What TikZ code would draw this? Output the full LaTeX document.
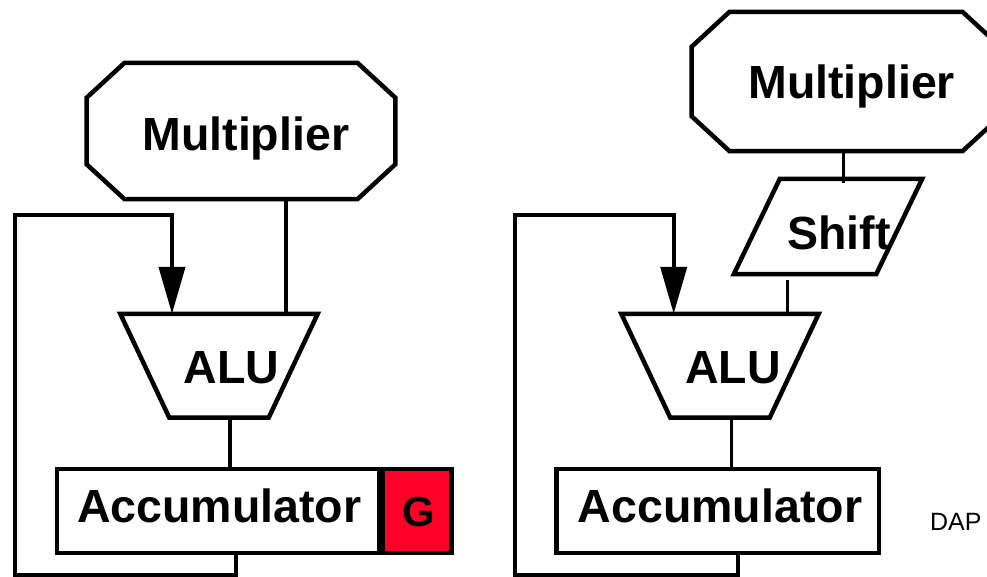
\documentclass[tikz,border=0pt]{standalone}
\usepackage{fontspec}
\setmainfont{Liberation Sans}
\usetikzlibrary{arrows.meta,positioning,calc}
\definecolor{gred}{RGB}{255,0,40}

% octagon outline round a plain node: #1 node, #2 cut in x, #3 cut in y
\newcommand\octagonbox[3]{%
  \draw[line width=4.5pt,line join=miter]
    ($(#1.north west)+(#2,0)$) -- ($(#1.north east)+(-#2,0)$)
    -- ($(#1.north east)+(0,#3)$) -- ($(#1.south east)+(0,-#3)$)
    -- ($(#1.south east)+(-#2,0)$) -- ($(#1.south west)+(#2,0)$)
    -- ($(#1.south west)+(0,-#3)$) -- ($(#1.north west)+(0,#3)$) -- cycle;}
% four-sided outline round a plain node, corners moved inwards:
% #1 node, #2 top left, #3 top right, #4 bottom right, #5 bottom left
\newcommand\slantbox[5]{%
  \draw[line width=4.5pt,line join=miter]
    ($(#1.north west)+(#2,0)$) -- ($(#1.north east)+(-#3,0)$)
    -- ($(#1.south east)+(-#4,0)$) -- ($(#1.south west)+(#5,0)$) -- cycle;}

\begin{document}
\begin{tikzpicture}[
  x=1pt, y=-1pt,
  >={Triangle[length=47pt,width=26pt]},
  box/.style={draw,line width=4.5pt,inner sep=0pt},
  plain/.style={rectangle,inner sep=0pt},
  mult/.style={plain,minimum width=308.5pt,minimum height=136pt},
  alu/.style={plain,minimum width=197pt,minimum height=103.5pt},
  shiftbox/.style={plain,minimum width=188pt,minimum height=95pt},
  reg/.style={box,rectangle,minimum width=322.5pt,minimum height=84pt},
  wire/.style={line width=3.3pt},
  fback/.style={line width=4pt},
  lab/.style={font=\fontsize{46.5}{50}\selectfont\bfseries,inner sep=0pt,anchor=base}
]
\useasboundingbox (0,0) rectangle (987,576);

% ===================== LEFT: plain accumulator =====================
\node[mult] (mulL) at (241,131) {};
\octagonbox{mulL}{38}{35}
\node[alu] (aluL) at (219,365.75) {};
\slantbox{aluL}{0}{0}{49}{49}
\node[reg] (accL) at (218.25,511) {};
\node[box,fill=gred,minimum width=68.5pt,minimum height=84pt] (gL) at (417.25,511) {};

\node[lab] (mulLt) at (245.8,150.7) {Multiplier};
\node[lab] (aluLt) at (231.3,383.3) {ALU};
\node[lab] (accLt) at (219.2,522.7) {Accumulator};
\node[lab,font=\fontsize{42}{44}\selectfont\bfseries] (gLt) at (419,526) {G};

% taps on the edges
\coordinate (tapL1) at (286,0);
\coordinate (tapL2) at (230,0);
\draw[wire] (mulL.south -| tapL1) -- (aluL.north -| tapL1);
\draw[wire,line width=3.6pt] (aluL.south -| tapL2) -- (accL.north -| tapL2);

% feedback round the left side
\coordinate (lpL1) at (236,574.5);
\coordinate (lpL2) at (15,574.5);
\coordinate (lpL3) at (15,215.3);
\coordinate (lpL4) at (172,215.3);
\draw[fback,->] (accL.south -| lpL1) -- (lpL1) -- (lpL2) -- (lpL3) -- (lpL4) -- (aluL.north -| lpL4);

% ===================== RIGHT: with shifter =====================
\node[mult,minimum height=139pt] (mulR) at (846,81.5) {};
\octagonbox{mulR}{38}{35}
\node[shiftbox] (shiftR) at (828,226.5) {};
\slantbox{shiftR}{46}{0}{46}{0}
\node[alu] (aluR) at (720,365.75) {};
\slantbox{aluR}{0}{0}{49}{49}
\node[reg] (accR) at (717.5,511) {};

\node[lab] (mulRt) at (851.7,98.3) {Multiplier};
\node[lab] (shiftRt) at (839,249.7) {Shift};
\node[lab] (aluRt) at (733,383.3) {ALU};
\node[lab] (accRt) at (720,522.7) {Accumulator};

\coordinate (tapR1) at (843.3,0);
\coordinate (tapR2) at (787.3,0);
\coordinate (tapR3) at (731.3,0);
\draw[wire,shorten >=-4pt] (mulR.south -| tapR1) -- (shiftR.north -| tapR1);
\draw[wire,shorten <=6pt] (shiftR.south -| tapR2) -- (aluR.north -| tapR2);
\draw[wire,line width=3.6pt] (aluR.south -| tapR3) -- (accR.north -| tapR3);

\coordinate (lpR1) at (738,574.5);
\coordinate (lpR2) at (515.3,574.5);
\coordinate (lpR3) at (515.3,215.3);
\coordinate (lpR4) at (673.7,215.3);
\draw[fback,->] (accR.south -| lpR1) -- (lpR1) -- (lpR2) -- (lpR3) -- (lpR4) -- (aluR.north -| lpR4);

% page tag
\node[font=\fontsize{25}{27}\selectfont,inner sep=0pt,anchor=base] (tag) at (955.8,530) {DAP};

\end{tikzpicture}
\end{document}
